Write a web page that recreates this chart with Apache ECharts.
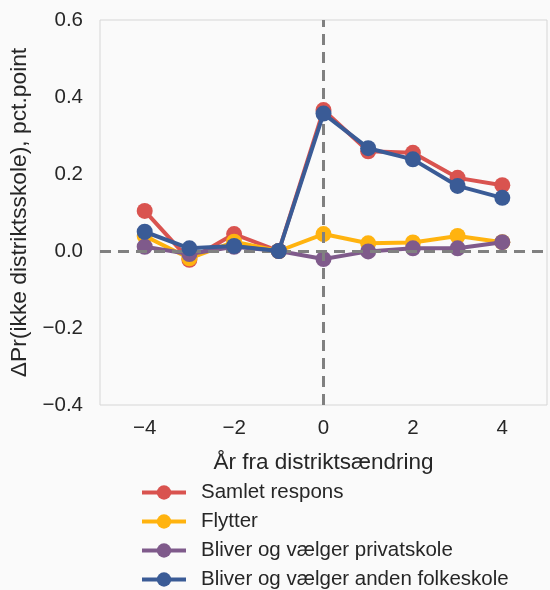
<!DOCTYPE html>
<html><head><meta charset="utf-8">
<script src="https://cdn.jsdelivr.net/npm/echarts@6/dist/echarts.min.js"></script>
<style>html,body{margin:0;padding:0;background:#fafafa}#c{width:550px;height:590px}</style>
</head><body><div id="c"></div>
<script>
const years = [-4, -3, -2, -1, 0, 1, 2, 3, 4];
const seriesNames = ['Samlet respons', 'Flytter', 'Bliver og vælger privatskole', 'Bliver og vælger anden folkeskole'];
const samlet = [0.104, -0.023, 0.044, 0.0, 0.366, 0.259, 0.255, 0.190, 0.171];
const flytter = [0.039, -0.019, 0.024, 0.0, 0.044, 0.020, 0.022, 0.039, 0.023];
const privat = [0.011, -0.008, 0.011, 0.0, -0.021, -0.001, 0.007, 0.007, 0.023];
const folkeskole = [0.050, 0.007, 0.013, 0.0, 0.357, 0.267, 0.238, 0.169, 0.138];
const colors = ['#d9534f', '#ffb30f', '#7f5a8b', '#3a5b96'];
const yTicks = [-0.4, -0.2, 0.0, 0.2, 0.4, 0.6];

const values = [samlet, flytter, privat, folkeskole];
const font = 'Liberation Sans, Arial, sans-serif';
const chart = echarts.init(document.getElementById('c'));
const fmtNum = v => (v < 0 ? '\u2212' : '') + Math.abs(v).toFixed(1);
chart.setOption({
  backgroundColor: '#fafafa',
  animation: false,
  textStyle: {fontFamily: font},
  grid: {left: 100, top: 20, width: 452, height: 385, show: true, borderColor: '#d6d6d6', borderWidth: 1, backgroundColor: '#fafafa'},
  xAxis: {
    type: 'value', min: -5, max: 5, interval: 1,
    axisLine: {show: false}, axisTick: {show: false}, splitLine: {show: false},
    axisLabel: {fontSize: 20.5, color: '#262626', margin: 13, fontFamily: font,
      formatter: v => (Math.round(v) % 2 === 0 ? (v < 0 ? '\u2212' : '') + Math.abs(v) : '')},
    name: 'År fra distriktsændring', nameLocation: 'middle', nameGap: 46,
    nameTextStyle: {fontSize: 22.5, color: '#262626', fontFamily: font}
  },
  yAxis: {
    type: 'value', min: yTicks[0], max: yTicks[yTicks.length - 1], interval: 0.2,
    axisLine: {show: false}, axisTick: {show: false}, splitLine: {show: false},
    axisLabel: {fontSize: 20.5, color: '#262626', margin: 17, fontFamily: font, formatter: fmtNum},
    name: 'ΔPr(ikke distriktsskole), pct.point', nameLocation: 'middle', nameGap: 52,
    nameTextStyle: {fontSize: 22.8, color: '#262626', fontFamily: font}
  },
  legend: {
    orient: 'vertical', left: 135, top: 477, height: 130, itemWidth: 44, itemHeight: 18, itemGap: 8,
    data: seriesNames,
    lineStyle: {width: 4},
    textStyle: {fontSize: 20.5, lineHeight: 21, color: '#262626', fontFamily: font, padding: [0, 0, 0, 10]}
  },
  series: [
    {type: 'line', data: [], silent: true, z: 1,
      markLine: {silent: true, symbol: 'none', label: {show: false},
        lineStyle: {color: '#808080', width: 3, type: [11, 7]},
        data: [{xAxis: 0}, {yAxis: 0}]}}
  ].concat(seriesNames.map((n, i) => ({
    name: n, type: 'line', z: 2 + i,
    data: years.map((y, j) => [y, values[i][j]]),
    color: colors[i],
    lineStyle: {width: 4, color: colors[i]},
    itemStyle: {color: colors[i]},
    symbol: 'circle', symbolSize: 16, showSymbol: true
  })))
});
</script></body></html>
